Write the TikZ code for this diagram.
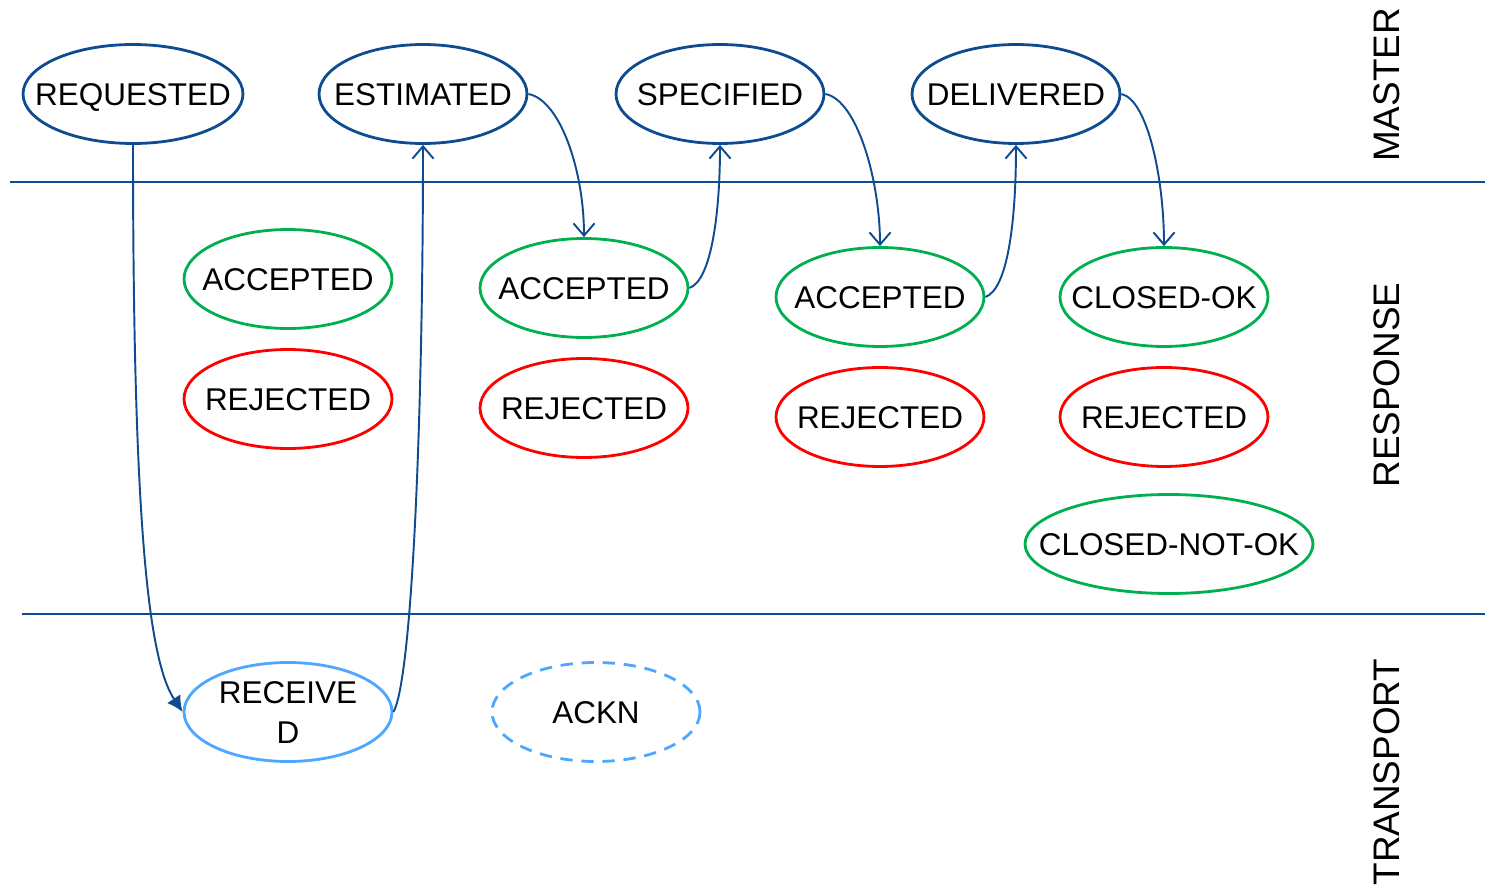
\documentclass[tikz,border=0pt]{standalone}
\usepackage{fontspec}
\setmainfont{Liberation Sans}
\usepackage{tikz}
\usetikzlibrary{positioning, shapes.geometric, arrows.meta}

\definecolor{masterblue}{RGB}{14,75,145}
\definecolor{okgreen}{RGB}{0,176,80}
\definecolor{badred}{RGB}{255,0,0}
\definecolor{lightblue}{RGB}{77,166,255}

% text that does not change the size of the ellipse
\newcommand{\statetext}[1]{\makebox[0pt]{\smash{\raisebox{-0.36em}{#1}}}}

\begin{document}
\begin{tikzpicture}[x=0.02cm, y=-0.02cm,
    state/.style={ellipse, draw, line width=1.6pt, inner sep=0pt,
      minimum width=4.16cm, minimum height=1.98cm,
      font=\fontsize{17.9}{22.7}\selectfont, align=center},
    master/.style={state, draw=masterblue},
    accept/.style={state, draw=okgreen},
    reject/.style={state, draw=badred},
    transp/.style={state, draw=lightblue},
    flow/.style={draw=masterblue, line width=1.1pt},
    lane/.style={draw=masterblue, line width=0.9pt},
    lanename/.style={rotate=90, font=\fontsize{21}{24}\selectfont}]
    \useasboundingbox (0,0) rectangle (1485,885);

    % Lane borders
    \coordinate (m1) at (10,182);   \coordinate (m2) at (1485,182);
    \coordinate (t1) at (22,614);   \coordinate (t2) at (1485,614);
    \draw[lane] (m1) -- (m2);
    \draw[lane] (t1) -- (t2);

    % Lane names
    \node[lanename] (lmaster) at (1387,85) {MASTER};
    \node[lanename] (lresponse) at (1387,385) {RESPONSE};
    \node[lanename] (ltransport) at (1387,772) {TRANSPORT};

    % Master states
    \node[master, minimum width=4.4cm] (requested) at (133,94) {\statetext{REQUESTED}};
    \node[master] (estimated) at (423,94) {\statetext{ESTIMATED}};
    \node[master] (specified) at (720,94) {\statetext{SPECIFIED}};
    \node[master] (delivered) at (1016,94) {\statetext{DELIVERED}};

    % Response states
    \node[accept] (acc1) at (288,279) {\statetext{ACCEPTED}};
    \node[reject] (rej1) at (288,399) {\statetext{REJECTED}};
    \node[accept] (acc2) at (584,288) {\statetext{ACCEPTED}};
    \node[reject] (rej2) at (584,408) {\statetext{REJECTED}};
    \node[accept] (acc3) at (880,297) {\statetext{ACCEPTED}};
    \node[reject] (rej3) at (880,417) {\statetext{REJECTED}};
    \node[accept] (closedok) at (1164,297) {\statetext{CLOSED-OK}};
    \node[reject] (rej4) at (1164,417) {\statetext{REJECTED}};
    \node[accept, minimum width=5.76cm] (closednok) at (1169,544) {\statetext{CLOSED-NOT-OK}};

    % Transport states
    \node[transp] (received) at (288,712)
      {\statetext{\begin{tabular}{@{}c@{}}RECEIVE\\D\end{tabular}}};
    \node[transp, dashed, dash pattern=on 7pt off 5pt] (ackn) at (596,712) {\statetext{ACKN}};

    % Flow
    \draw[flow, -{Latex[length=9pt, width=9pt]}] (requested.south)
      .. controls (133,520) and (148,660) .. (received.west);
    \draw[flow, -{Straight Barb[length=7pt, width=12pt]}] (received.east)
      .. controls (412,680) and (423,420) .. (estimated.south);
    \draw[flow, -{Straight Barb[length=7pt, width=12pt]}] (estimated.east)
      .. controls (560,100) and (584,170) .. (acc2.north);
    \draw[flow, -{Straight Barb[length=7pt, width=12pt]}] (acc2.east)
      .. controls (712,280) and (720,210) .. (specified.south);
    \draw[flow, -{Straight Barb[length=7pt, width=12pt]}] (specified.east)
      .. controls (857,100) and (880,180) .. (acc3.north);
    \draw[flow, -{Straight Barb[length=7pt, width=12pt]}] (acc3.east)
      .. controls (1008,289) and (1016,220) .. (delivered.south);
    \draw[flow, -{Straight Barb[length=7pt, width=12pt]}] (delivered.east)
      .. controls (1148,100) and (1164,180) .. (closedok.north);

\end{tikzpicture}
\end{document}
